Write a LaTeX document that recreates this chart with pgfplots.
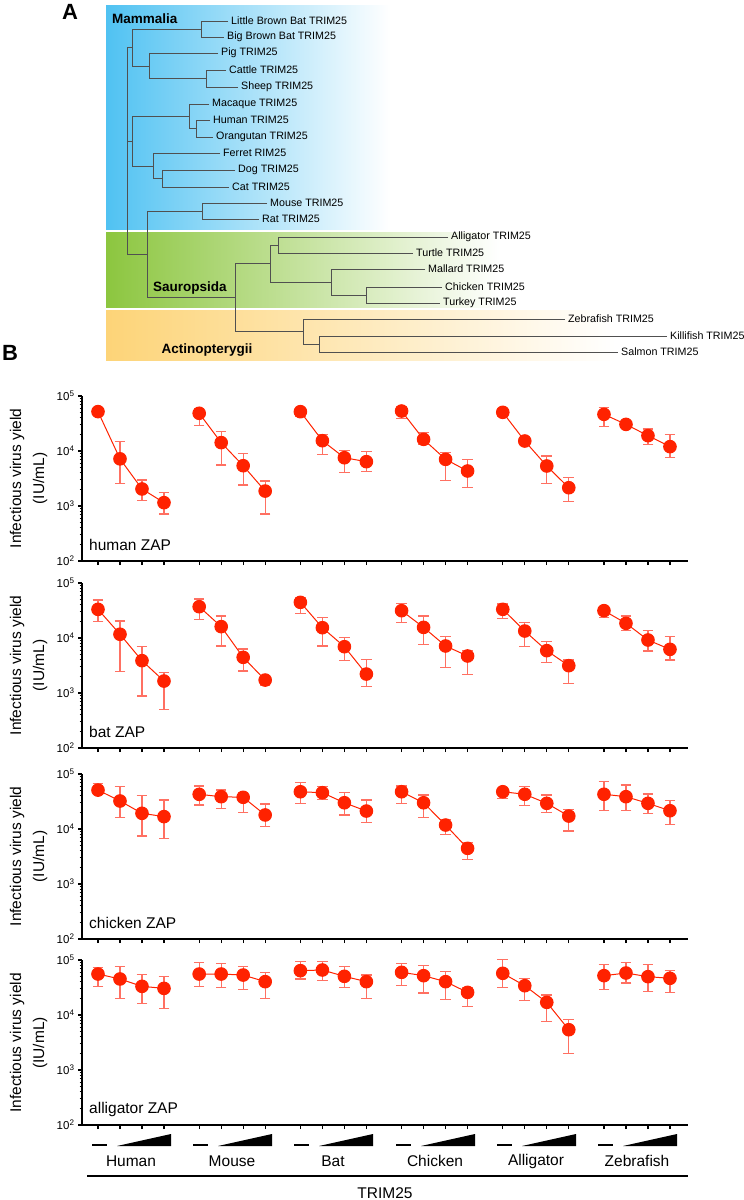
\documentclass[border=0pt]{standalone}
\usepackage{pgfplots}
\pgfplotsset{compat=1.18}
\usepackage{pgfplotstable}
\usepackage{fontspec}
\setmainfont{Liberation Sans}

\definecolor{mblue}{RGB}{80,194,242}
\definecolor{sgreen}{RGB}{140,198,63}
\definecolor{aorange}{RGB}{253,212,120}
\definecolor{dot}{RGB}{255,34,0}
\definecolor{err}{RGB}{255,112,98}
\definecolor{branch}{RGB}{80,80,80}

\newcommand\leaffont{\fontsize{10.7bp}{12bp}\selectfont}
\newcommand\cladefont{\fontsize{13.5bp}{16bp}\selectfont\bfseries}
\newcommand\axfont{\fontsize{15.5bp}{18bp}\selectfont}
\newcommand\tickfont{\fontsize{11.5bp}{13bp}\selectfont}
\newcommand\panelfont{\fontsize{22bp}{24bp}\selectfont\bfseries}

% tree bracket: child1 x, y1, node x, y2, child2 x
\newcommand\br[5]{\addplot[branch, line width=0.8bp] coordinates {(#1,#2) (#3,#2) (#3,#4) (#5,#4)};}

% labels of one panel: centre of y label, y of panel name, name
\newcommand\zaplabels[3]{%
  \node[rotate=90, font=\axfont, inner sep=0pt] at (17,#1) {Infectious virus yield};
  \node[rotate=90, font=\axfont, inner sep=0pt] at (40,#1) {(IU/mL)};
  \node[anchor=west, font=\axfont, inner sep=0pt] at (89,#2) {#3};
}

% columns: g x y lo hi
\pgfplotstableread{
g x y lo hi
0 0    52000 52000 52000
0 1    7200  2570  14800
0 2    2040  1250  2970
0 3    1150  716   1740
1 4.6  48500 28800 59700
1 5.6  14200 5560  22400
1 6.6  5400  2410  9100
1 7.6  1870  716   2850
2 9.2  51900 42000 59700
2 10.2 15400 8500  20000
2 11.2 7550  4050  10100
2 12.2 6400  4200  9700
3 13.8 53300 39300 64000
3 14.8 16300 12900 21800
3 15.8 7050  2880  9500
3 16.8 4330  2180  7050
4 18.4 50500 42000 59700
4 19.4 15200 15200 15200
4 20.4 5340  2600  8100
4 21.4 2150  1230  3270
5 23   46400 27700 61300
5 24   30500 30500 30500
5 25   19000 12900 25100
5 26   12000 7560  20100
}\humanzap

\pgfplotstableread{
g x y lo hi
0 0    33200 19800 49100
0 1    11700 2440  20400
0 2    3870  881   6950
0 3    1650  505   2340
1 4.6  37100 22100 51200
1 5.6  16100 7160  25100
1 6.6  4450  2510  6300
1 7.6  1720  1400  1930
2 9.2  44500 28100 54800
2 10.2 15400 7160  23400
2 11.2 6950  3870  10100
2 12.2 2210  1300  4100
3 13.8 31400 19300 42600
3 14.8 15600 7680  25100
3 15.8 7160  2890  10600
3 16.8 4710  2180  5890
4 18.4 33200 22800 41500
4 19.4 13400 6950  19000
4 20.4 5890  3620  8570
4 21.4 3140  1500  3980
5 23   31400 23800 36100
5 24   18500 13600 25100
5 25   9200  5810  13600
5 26   6220  3980  10600
}\batzap

\pgfplotstableread{
g x y lo hi
0 0    51000 42700 67600
0 1    32300 16100 58900
0 2    19300 7460  40300
0 3    16800 6600  33700
1 4.6  42700 27300 60500
1 5.6  38700 23800 51200
1 6.6  37700 19800 45700
1 7.6  18000 11300 28500
2 9.2  47600 29300 69500
2 10.2 45700 35000 58800
2 11.2 30000 18000 45700
2 12.2 21200 13000 33700
3 13.8 47600 29300 60500
3 14.8 30000 16300 41500
3 15.8 11800 8000  15000
3 16.8 4450  2800  5630
4 18.4 47600 36000 54800
4 19.4 42800 26500 58800
4 20.4 29300 20100 41500
4 21.4 17200 9200  22800
5 23   42800 22100 72500
5 24   38700 22100 63000
5 25   29300 19300 43300
5 26   21500 12200 32700
}\chickenzap

\pgfplotstableread{
g x y lo hi
0 0    55600 32700 73600
0 1    45200 20100 75600
0 2    33200 16500 54100
0 3    30500 12900 50500
1 4.6  55600 33200 90800
1 5.6  55600 31800 88000
1 6.6  53300 28800 75600
1 7.6  40400 20100 59700
2 9.2  64000 45200 93000
2 10.2 65800 42000 93000
2 11.2 50500 31800 75600
2 12.2 40400 20100 53300
3 13.8 59700 34100 88000
3 14.8 51900 25100 78800
3 15.8 40400 19500 62200
3 16.8 25800 14200 31800
4 18.4 57300 31800 101000
4 19.4 34100 18200 46500
4 20.4 17000 7560  23100
4 21.4 5400  2010  8220
5 23   51900 28800 82200
5 24   58000 38200 90800
5 25   49800 26600 82200
5 26   46500 25800 64000
}\alligatorzap

\newcommand\zapdata[1]{%
  \addplot[only marks, mark=none,
    error bars/.cd, y dir=both, y explicit,
    error bar style={err, line width=1.1bp},
    error mark options={err, rotate=90, mark size=5.3bp, line width=1.1bp}]
    table[x=x, y=y, y error plus expr=\thisrow{hi}-\thisrow{y},
          y error minus expr=\thisrow{y}-\thisrow{lo}] {#1};
  \pgfplotsinvokeforeach{0,...,5}{%
    \addplot[dot, line width=1bp, mark=*, mark size=6.3bp,
      mark options={fill=dot, draw=dot}]
      table[x=x, y=y, restrict expr to domain={\thisrow{g}}{##1:##1}] {#1};
  }%
}

\begin{document}
\begin{tikzpicture}
\useasboundingbox (0,0) rectangle (744bp,-1200bp);

% canvas in image pixels: tree, labels, x-axis annotations
\begin{axis}[at={(0,0)}, anchor=north west, scale only axis,
  width=744bp, height=1200bp, xmin=0, xmax=744, ymin=0, ymax=1200,
  y dir=reverse, hide axis, clip=false]

\addplot[draw=none, left color=mblue, right color=white]
  coordinates {(106,5) (390,5) (390,229) (106,229) (106,5)};
\addplot[draw=none, left color=sgreen, right color=white]
  coordinates {(106,232) (500,232) (500,307) (106,307) (106,232)};
\addplot[draw=none, left color=aorange, right color=white]
  coordinates {(106,310) (615,310) (615,360) (106,360) (106,310)};

% Mammalia
\br{228}{21}{201}{37}{224}
\br{226}{70}{206}{87}{238}
\br{218}{53}{149}{78.5}{206}
\br{201}{29}{132}{66}{149}
\br{210}{120}{196}{137}{213}
\br{209}{104}{189}{128.5}{196}
\br{235}{170}{162}{187}{229}
\br{220}{153}{153}{178.5}{162}
\br{189}{116}{132}{166}{153}
\br{267}{203}{202}{219}{259}
% root
\br{132}{47.5}{127.7}{254}{147}
\addplot[branch, line width=0.8bp] coordinates {(127.7,141) (132,141)};
\br{202}{211}{147}{297.5}{235}
\br{270}{263.5}{235}{331.5}{303}
% Sauropsida
\br{448}{237}{278}{253}{413}
\br{425}{269}{331}{295}{366}
\br{442}{287}{366}{303}{440}
\br{278}{245}{270}{282}{331}
% Actinopterygii
\br{565}{319}{303}{344}{319}
\br{667}{336}{319}{352}{618}

\begin{scope}[every node/.style={anchor=west, inner sep=0pt, font=\leaffont}]
\node at (231,21) {Little Brown Bat TRIM25};
\node at (227,37) {Big Brown Bat TRIM25};
\node at (221,53) {Pig TRIM25};
\node at (229,70) {Cattle TRIM25};
\node at (241,87) {Sheep TRIM25};
\node at (212,104) {Macaque TRIM25};
\node at (213,120) {Human TRIM25};
\node at (216,137) {Orangutan TRIM25};
\node at (223,153) {Ferret RIM25};
\node at (238,170) {Dog TRIM25};
\node at (232,187) {Cat TRIM25};
\node at (270,203) {Mouse TRIM25};
\node at (262,219) {Rat TRIM25};
\node at (451,237) {Alligator TRIM25};
\node at (416,253) {Turtle TRIM25};
\node at (428,269) {Mallard TRIM25};
\node at (445,287) {Chicken TRIM25};
\node at (443,303) {Turkey TRIM25};
\node at (568,319) {Zebrafish TRIM25};
\node at (670,336) {Killifish TRIM25};
\node at (621,352) {Salmon TRIM25};
\end{scope}

\node[anchor=west, inner sep=0pt, font=\cladefont] at (112,19) {Mammalia};
\node[anchor=west, inner sep=0pt, font=\cladefont] at (153,288) {Sauropsida};
\node[inner sep=0pt, font=\cladefont] at (207,350) {Actinopterygii};

\node[font=\panelfont, inner sep=0pt] at (70,12) {A};
\node[font=\panelfont, inner sep=0pt] at (10,353) {B};

% y labels and panel names
\zaplabels{478.5}{545}{human ZAP}
\zaplabels{665.5}{732}{bat ZAP}
\zaplabels{856.5}{923}{chicken ZAP}
\zaplabels{1043}{1109}{alligator ZAP}

% TRIM25 dose annotations
\addplot[black, line width=2.2bp] coordinates {(92,1145) (107,1145)};
\addplot[black, line width=2.2bp] coordinates {(193,1145) (208,1145)};
\addplot[black, line width=2.2bp] coordinates {(294,1145) (309,1145)};
\addplot[black, line width=2.2bp] coordinates {(396,1145) (411,1145)};
\addplot[black, line width=2.2bp] coordinates {(497,1145) (512,1145)};
\addplot[black, line width=2.2bp] coordinates {(598,1145) (613,1145)};
\addplot[fill=black, draw=none] coordinates {(117,1146) (171,1146) (171,1134) (117,1146)};
\addplot[fill=black, draw=none] coordinates {(218,1146) (272,1146) (272,1134) (218,1146)};
\addplot[fill=black, draw=none] coordinates {(319,1146) (373,1146) (373,1134) (319,1146)};
\addplot[fill=black, draw=none] coordinates {(421,1146) (475,1146) (475,1134) (421,1146)};
\addplot[fill=black, draw=none] coordinates {(522,1146) (576,1146) (576,1134) (522,1146)};
\addplot[fill=black, draw=none] coordinates {(623,1146) (677,1146) (677,1134) (623,1146)};
\addplot[black, line width=2bp] coordinates {(87,1176) (688,1176)};

\node[font=\axfont, inner sep=0pt] at (131,1161) {Human};
\node[font=\axfont, inner sep=0pt] at (232,1161) {Mouse};
\node[font=\axfont, inner sep=0pt] at (333,1161) {Bat};
\node[font=\axfont, inner sep=0pt] at (435,1161) {Chicken};
\node[font=\axfont, inner sep=0pt] at (536,1161) {Alligator};
\node[font=\axfont, inner sep=0pt] at (637,1161) {Zebrafish};
\node[font=\axfont, inner sep=0pt] at (385,1193) {TRIM25};
\end{axis}

\begin{axis}[at={(82bp,-561bp)}, anchor=south west,
    scale only axis, width=606bp, height=165bp,
    ymode=log, ymin=100, ymax=100000, xmin=-0.727, xmax=26.82,
    axis x line*=bottom, axis y line*=left, axis line style={line width=1.6bp},
    xtick={0,1,2,3,4.6,5.6,6.6,7.6,9.2,10.2,11.2,12.2,13.8,14.8,15.8,16.8,18.4,19.4,20.4,21.4,23,24,25,26},
    xticklabels={}, ytick={100,1000,10000,100000},
    minor ytick={200,300,400,500,600,700,800,900,2000,3000,4000,5000,6000,7000,8000,9000,20000,30000,40000,50000,60000,70000,80000,90000},
    yticklabels={10\textsuperscript{2},10\textsuperscript{3},10\textsuperscript{4},10\textsuperscript{5}},
    yticklabel style={font=\tickfont}, tick align=outside,
    major tick length=4bp, minor tick length=2.5bp,
    tick style={black, line width=1.2bp}, minor tick style={black, line width=0.8bp}, clip=false]
\zapdata{\humanzap}
\end{axis}

\begin{axis}[at={(82bp,-748bp)}, anchor=south west,
    scale only axis, width=606bp, height=165bp,
    ymode=log, ymin=100, ymax=100000, xmin=-0.727, xmax=26.82,
    axis x line*=bottom, axis y line*=left, axis line style={line width=1.6bp},
    xtick={0,1,2,3,4.6,5.6,6.6,7.6,9.2,10.2,11.2,12.2,13.8,14.8,15.8,16.8,18.4,19.4,20.4,21.4,23,24,25,26},
    xticklabels={}, ytick={100,1000,10000,100000},
    minor ytick={200,300,400,500,600,700,800,900,2000,3000,4000,5000,6000,7000,8000,9000,20000,30000,40000,50000,60000,70000,80000,90000},
    yticklabels={10\textsuperscript{2},10\textsuperscript{3},10\textsuperscript{4},10\textsuperscript{5}},
    yticklabel style={font=\tickfont}, tick align=outside,
    major tick length=4bp, minor tick length=2.5bp,
    tick style={black, line width=1.2bp}, minor tick style={black, line width=0.8bp}, clip=false]
\zapdata{\batzap}
\end{axis}

\begin{axis}[at={(82bp,-939bp)}, anchor=south west,
    scale only axis, width=606bp, height=165bp,
    ymode=log, ymin=100, ymax=100000, xmin=-0.727, xmax=26.82,
    axis x line*=bottom, axis y line*=left, axis line style={line width=1.6bp},
    xtick={0,1,2,3,4.6,5.6,6.6,7.6,9.2,10.2,11.2,12.2,13.8,14.8,15.8,16.8,18.4,19.4,20.4,21.4,23,24,25,26},
    xticklabels={}, ytick={100,1000,10000,100000},
    minor ytick={200,300,400,500,600,700,800,900,2000,3000,4000,5000,6000,7000,8000,9000,20000,30000,40000,50000,60000,70000,80000,90000},
    yticklabels={10\textsuperscript{2},10\textsuperscript{3},10\textsuperscript{4},10\textsuperscript{5}},
    yticklabel style={font=\tickfont}, tick align=outside,
    major tick length=4bp, minor tick length=2.5bp,
    tick style={black, line width=1.2bp}, minor tick style={black, line width=0.8bp}, clip=false]
\zapdata{\chickenzap}
\end{axis}

\begin{axis}[at={(82bp,-1125bp)}, anchor=south west,
    scale only axis, width=606bp, height=165bp,
    ymode=log, ymin=100, ymax=100000, xmin=-0.727, xmax=26.82,
    axis x line*=bottom, axis y line*=left, axis line style={line width=1.6bp},
    xtick={0,1,2,3,4.6,5.6,6.6,7.6,9.2,10.2,11.2,12.2,13.8,14.8,15.8,16.8,18.4,19.4,20.4,21.4,23,24,25,26},
    xticklabels={}, ytick={100,1000,10000,100000},
    minor ytick={200,300,400,500,600,700,800,900,2000,3000,4000,5000,6000,7000,8000,9000,20000,30000,40000,50000,60000,70000,80000,90000},
    yticklabels={10\textsuperscript{2},10\textsuperscript{3},10\textsuperscript{4},10\textsuperscript{5}},
    yticklabel style={font=\tickfont}, tick align=outside,
    major tick length=4bp, minor tick length=2.5bp,
    tick style={black, line width=1.2bp}, minor tick style={black, line width=0.8bp}, clip=false]
\zapdata{\alligatorzap}
\end{axis}
\end{tikzpicture}
\end{document}
